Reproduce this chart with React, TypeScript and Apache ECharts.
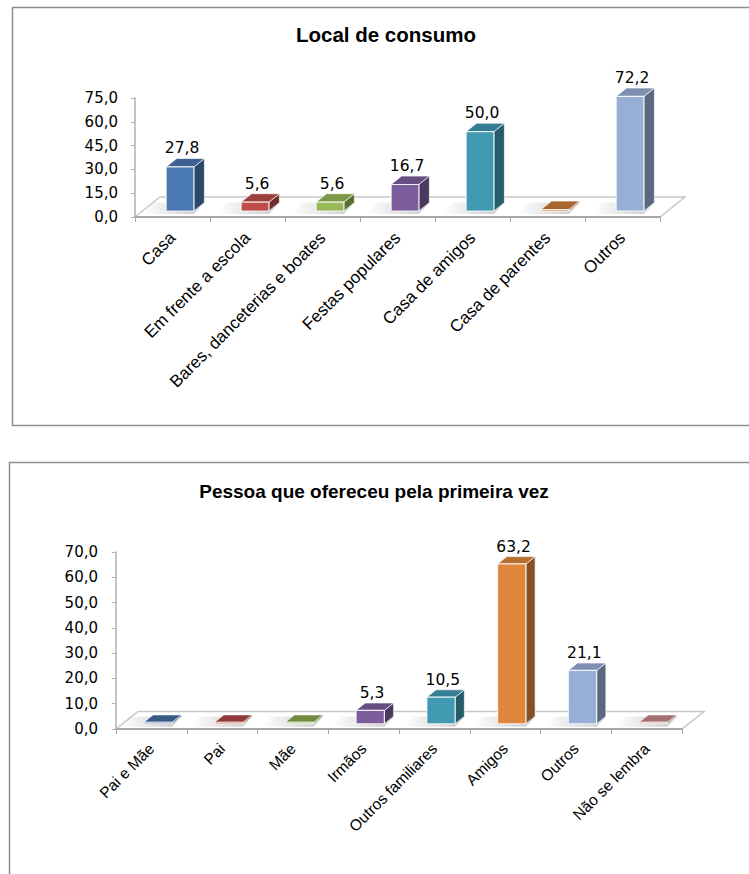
import React, { useEffect, useRef } from "react";
import * as echarts from "echarts";

// Chart 1: local de consumo
const localTitle = "Local de consumo";
const localCategories = [
  "Casa",
  "Em frente a escola",
  "Bares, danceterias e boates",
  "Festas populares",
  "Casa de amigos",
  "Casa de parentes",
  "Outros",
];
const localValues = [27.8, 5.6, 5.6, 16.7, 50.0, 0, 72.2];
const localAxis = { min: 0, max: 75, interval: 15 };

// Chart 2: pessoa que ofereceu pela primeira vez
const pessoaTitle = "Pessoa que ofereceu pela primeira vez";
const pessoaCategories = [
  "Pai e Mãe",
  "Pai",
  "Mãe",
  "Irmãos",
  "Outros familiares",
  "Amigos",
  "Outros",
  "Não se lembra",
];
const pessoaValues = [0, 0, 0, 5.3, 10.5, 63.2, 21.1, 0];
const pessoaAxis = { min: 0, max: 70, interval: 10 };

// Office-style palette, one colour per category
const barColors = [
  "#4A78B2",
  "#BE4D4A",
  "#98B955",
  "#7C5E9E",
  "#4199B2",
  "#E0863C",
  "#97AED6",
  "#D99694",
];

const NUM_FONT = "DejaVu Sans";
const TEXT_FONT = "Liberation Sans, Arial, sans-serif";

const fmt = (v: number) => v.toFixed(1).replace(".", ",");

function shade(hex: string, k: number) {
  const n = parseInt(hex.slice(1), 16);
  const r = Math.round(((n >> 16) & 255) * k);
  const g = Math.round(((n >> 8) & 255) * k);
  const b = Math.round((n & 255) * k);
  return `rgb(${r},${g},${b})`;
}

type Depth = { dx: number; dy: number };

// Perspective floor under the bars
function floorRenderer(depth: Depth) {
  return (params: any, api: any) => {
    const cs = params.coordSys;
    const y0 = api.coord([0, 0])[1];
    const x0 = cs.x;
    const x1 = cs.x + cs.width;
    return {
      type: "polygon",
      shape: {
        points: [
          [x0, y0],
          [x1, y0],
          [x1 + depth.dx, y0 + depth.dy],
          [x0 + depth.dx, y0 + depth.dy],
        ],
      },
      style: { fill: "#ffffff", stroke: "#c8c8c8", lineWidth: 1.5 },
    };
  };
}

// Pseudo-3D column: front face, top face, side face, floor shadow and value label
function barRenderer(depth: Depth, widthRatio: number, labelSize: number) {
  return (params: any, api: any) => {
    const i = api.value(0);
    const v = api.value(1);
    const base = api.coord([i, 0]);
    const top = api.coord([i, v]);
    const band = api.size([1, 0])[0];
    const fw = band * widthRatio;
    const ox = depth.dx * 0.3;
    const oy = depth.dy * 0.3;
    const bdx = depth.dx * 0.42;
    const bdy = depth.dy * 0.42;
    const L = base[0] + ox - fw / 2;
    const R = L + fw;
    const B = base[1] + oy;
    const flat = v <= 0;
    const T = flat ? B - 1.5 : top[1] + oy;
    const c = barColors[i % barColors.length];
    const edge = "rgba(255,255,255,0.8)";
    const children: any[] = [];

    // soft shadow on the floor
    children.push({
      type: "polygon",
      shape: {
        points: [
          [L - 24, B + 3],
          [R, B + 3],
          [R + bdx, B + bdy],
          [L - 24 + bdx, B + bdy],
        ],
      },
      style: {
        fill: new echarts.graphic.LinearGradient(0, 0, 1, 0, [
          { offset: 0, color: "rgba(0,0,0,0)" },
          { offset: 1, color: "rgba(0,0,0,0.22)" },
        ]),
      },
      z2: 1,
    });

    // side face
    children.push({
      type: "polygon",
      shape: {
        points: [
          [R, T],
          [R + bdx, T + bdy],
          [R + bdx, B + bdy],
          [R, B],
        ],
      },
      style: { fill: shade(c, 0.6), stroke: edge, lineWidth: 0.8 },
      z2: 2,
    });
    // top face
    children.push({
      type: "polygon",
      shape: {
        points: [
          [L, T],
          [R, T],
          [R + bdx, T + bdy],
          [L + bdx, T + bdy],
        ],
      },
      style: { fill: shade(c, flat ? 0.75 : 0.82), stroke: edge, lineWidth: 0.8 },
      z2: 3,
    });
    // front face
    children.push({
      type: "rect",
      shape: { x: L, y: T, width: fw, height: B - T },
      style: { fill: c, stroke: edge, lineWidth: 1.2 },
      z2: 4,
    });

    if (!flat) {
      children.push({
        type: "text",
        x: (L + R) / 2 + bdx * 0.2,
        y: T + bdy - 2,
        style: {
          text: fmt(v),
          textAlign: "center",
          textVerticalAlign: "bottom",
          fill: "#000000",
          fontFamily: NUM_FONT,
          fontSize: labelSize,
        },
        z2: 5,
      });
    }
    return { type: "group", children };
  };
}

function xAxisFor(cats: string[], gridIndex: number, margin: number, fontSize: number) {
  return {
    type: "category",
    gridIndex,
    data: cats,
    boundaryGap: true,
    z: 5,
    axisLine: { show: true, lineStyle: { color: "#a8a8a8", width: 2 } },
    axisTick: {
      show: true,
      alignWithLabel: false,
      length: 5,
      lineStyle: { color: "#a8a8a8", width: 1 },
    },
    axisLabel: {
      interval: 0,
      rotate: 45,
      margin,
      color: "#000000",
      fontFamily: TEXT_FONT,
      fontSize,
    },
    splitLine: { show: false },
  };
}

function yAxisFor(range: { min: number; max: number; interval: number }, gridIndex: number, margin: number) {
  return {
    type: "value",
    gridIndex,
    min: range.min,
    max: range.max,
    interval: range.interval,
    z: 5,
    axisLine: { show: true, lineStyle: { color: "#b0b0b0", width: 1.5 } },
    axisTick: { show: true, length: 4, lineStyle: { color: "#b0b0b0" } },
    axisLabel: {
      margin,
      color: "#000000",
      fontFamily: NUM_FONT,
      fontSize: 15,
      formatter: (v: number) => fmt(v),
    },
    splitLine: { show: false },
  };
}

const topDepth = { dx: 25, dy: -20 };
const bottomDepth = { dx: 22, dy: -17.5 };

export default function App() {
  const ref = useRef<HTMLDivElement>(null);

  useEffect(() => {
    if (!ref.current) return;
    const chart = echarts.init(ref.current, undefined, { renderer: "svg" });
    chart.setOption({
      animation: false,
      backgroundColor: "#ffffff",
      graphic: [
        {
          type: "rect",
          shape: { x: 12.5, y: 7.5, width: 760, height: 418 },
          style: { fill: "none", stroke: "#8e8e8e", lineWidth: 1.5 },
          z: -1,
        },
        {
          type: "rect",
          shape: { x: 9.5, y: 462.5, width: 760, height: 430 },
          style: { fill: "none", stroke: "#8e8e8e", lineWidth: 1.5 },
          z: -1,
        },
        {
          type: "text",
          x: 386,
          y: 34.5,
          style: {
            text: localTitle,
            textAlign: "center",
            textVerticalAlign: "middle",
            fontFamily: TEXT_FONT,
            fontWeight: "bold",
            fontSize: 20.5,
            fill: "#000000",
          },
        },
        {
          type: "text",
          x: 374,
          y: 491,
          style: {
            text: pessoaTitle,
            textAlign: "center",
            textVerticalAlign: "middle",
            fontFamily: TEXT_FONT,
            fontWeight: "bold",
            fontSize: 19,
            fill: "#000000",
          },
        },
      ],
      grid: [
        { left: 135, top: 98, width: 525, height: 119, outerBoundsMode: "none" },
        { left: 116, top: 552, width: 566, height: 177, outerBoundsMode: "none" },
      ],
      xAxis: [
        xAxisFor(localCategories, 0, 18, 17),
        xAxisFor(pessoaCategories, 1, 17, 15.5),
      ],
      yAxis: [yAxisFor(localAxis, 0, 17), yAxisFor(pessoaAxis, 1, 18)],
      series: [
        {
          type: "custom",
          xAxisIndex: 0,
          yAxisIndex: 0,
          z: 1,
          clip: false,
          silent: true,
          data: [[0, 0]],
          renderItem: floorRenderer(topDepth),
        },
        {
          type: "custom",
          xAxisIndex: 0,
          yAxisIndex: 0,
          z: 3,
          clip: false,
          data: localValues.map((v, i) => [i, v]),
          encode: { x: 0, y: 1 },
          renderItem: barRenderer(topDepth, 0.37, 15.5),
        },
        {
          type: "custom",
          xAxisIndex: 1,
          yAxisIndex: 1,
          z: 1,
          clip: false,
          silent: true,
          data: [[0, 0]],
          renderItem: floorRenderer(bottomDepth),
        },
        {
          type: "custom",
          xAxisIndex: 1,
          yAxisIndex: 1,
          z: 3,
          clip: false,
          data: pessoaValues.map((v, i) => [i, v]),
          encode: { x: 0, y: 1 },
          renderItem: barRenderer(bottomDepth, 0.4, 15.5),
        },
      ],
    });
    return () => chart.dispose();
  }, []);

  return (
    <div
      ref={ref}
      style={{ position: "absolute", left: 0, top: 0, width: 749, height: 874, background: "#fff" }}
    />
  );
}
